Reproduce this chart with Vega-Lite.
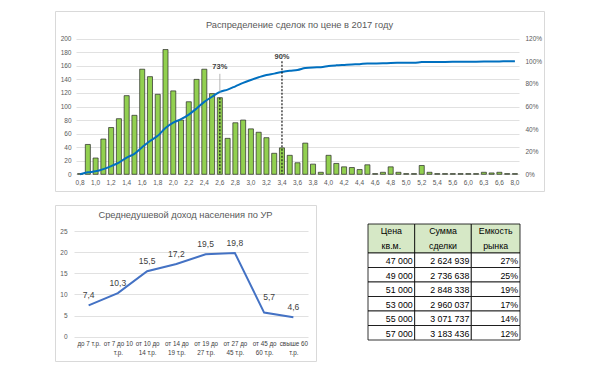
{
  "$schema": "https://vega.github.io/schema/vega-lite/v6.json",
  "background": "white",
  "padding": {"left": 54, "top": 10, "right": 5, "bottom": 5},
  "bounds": "flush",
  "spacing": 14,
  "config": {
    "font": "Liberation Sans",
    "view": {"stroke": "#D9D9D9", "strokeWidth": 1},
    "axis": {"labelColor": "#595959", "labelFont": "Liberation Sans", "gridColor": "#D9D9D9", "gridWidth": 0.8, "domain": false, "ticks": false, "tickSize": 0, "labelFontSize": 7, "labelOverlap": false},
    "title": {"font": "Liberation Sans", "color": "#595959", "fontWeight": "normal"}
  },
  "datasets": {
    "dist": [
      {"p": "0,8", "n": 1, "cum": 0.0004},
      {"p": "0,9", "n": 44, "cum": 0.0172},
      {"p": "1,0", "n": 24, "cum": 0.0263},
      {"p": "1,1", "n": 52, "cum": 0.0461},
      {"p": "1,2", "n": 69, "cum": 0.0725},
      {"p": "1,3", "n": 82, "cum": 0.1037},
      {"p": "1,4", "n": 116, "cum": 0.1480},
      {"p": "1,5", "n": 87, "cum": 0.1812},
      {"p": "1,6", "n": 155, "cum": 0.2403},
      {"p": "1,7", "n": 144, "cum": 0.2952},
      {"p": "1,8", "n": 118, "cum": 0.3402},
      {"p": "1,9", "n": 184, "cum": 0.4104},
      {"p": "2,0", "n": 123, "cum": 0.4573},
      {"p": "2,1", "n": 80, "cum": 0.4878},
      {"p": "2,2", "n": 107, "cum": 0.5286},
      {"p": "2,3", "n": 140, "cum": 0.5820},
      {"p": "2,4", "n": 155, "cum": 0.6411},
      {"p": "2,5", "n": 119, "cum": 0.6865},
      {"p": "2,6", "n": 113, "cum": 0.7296},
      {"p": "2,7", "n": 53, "cum": 0.7498},
      {"p": "2,8", "n": 76, "cum": 0.7788},
      {"p": "2,9", "n": 80, "cum": 0.8093},
      {"p": "3,0", "n": 67, "cum": 0.8349},
      {"p": "3,1", "n": 62, "cum": 0.8585},
      {"p": "3,2", "n": 54, "cum": 0.8791},
      {"p": "3,3", "n": 31, "cum": 0.8909},
      {"p": "3,4", "n": 39, "cum": 0.9058},
      {"p": "3,5", "n": 28, "cum": 0.9165},
      {"p": "3,6", "n": 17, "cum": 0.9230},
      {"p": "3,7", "n": 46, "cum": 0.9405},
      {"p": "3,8", "n": 15, "cum": 0.9462},
      {"p": "3,9", "n": 3, "cum": 0.9474},
      {"p": "4,0", "n": 28, "cum": 0.9580},
      {"p": "4,1", "n": 16, "cum": 0.9641},
      {"p": "4,2", "n": 11, "cum": 0.9683},
      {"p": "4,3", "n": 10, "cum": 0.9722},
      {"p": "4,4", "n": 7, "cum": 0.9748},
      {"p": "4,5", "n": 14, "cum": 0.9802},
      {"p": "4,6", "n": 1, "cum": 0.9806},
      {"p": "4,7", "n": 3, "cum": 0.9817},
      {"p": "4,8", "n": 11, "cum": 0.9859},
      {"p": "4,9", "n": 3, "cum": 0.9870},
      {"p": "5,0", "n": 1, "cum": 0.9874},
      {"p": "5,1", "n": 1, "cum": 0.9878},
      {"p": "5,2", "n": 13, "cum": 0.9928},
      {"p": "5,3", "n": 3, "cum": 0.9939},
      {"p": "5,4", "n": 1, "cum": 0.9943},
      {"p": "5,5", "n": 1, "cum": 0.9947},
      {"p": "5,6", "n": 1, "cum": 0.9950},
      {"p": "5,8", "n": 1, "cum": 0.9954},
      {"p": "6,0", "n": 1, "cum": 0.9958},
      {"p": "6,2", "n": 1, "cum": 0.9962},
      {"p": "6,3", "n": 3, "cum": 0.9973},
      {"p": "6,5", "n": 2, "cum": 0.9981},
      {"p": "6,6", "n": 3, "cum": 0.9992},
      {"p": "7,0", "n": 1, "cum": 0.9996},
      {"p": "8,0", "n": 1, "cum": 1.0}
    ],
    "ann": [
      {"p": "2,6", "share": 0.73, "lab": "73%"},
      {"p": "3,4", "share": 0.90, "lab": "90%"}
    ],
    "income": [
      {"cat": "до 7 т.р.", "v": 7.4, "lbl": "7,4"},
      {"cat": "от 7  до 10|т.р.", "v": 10.3, "lbl": "10,3"},
      {"cat": "от 10 до|14 т.р.", "v": 15.5, "lbl": "15,5"},
      {"cat": "от 14 до|19 т.р.", "v": 17.2, "lbl": "17,2"},
      {"cat": "от 19 до|27 т.р.", "v": 19.5, "lbl": "19,5"},
      {"cat": "от 27 до|45 т.р.", "v": 19.8, "lbl": "19,8"},
      {"cat": "от 45 до|60 т.р.", "v": 5.7, "lbl": "5,7"},
      {"cat": "свыше 60|т.р.", "v": 4.6, "lbl": "4,6"}
    ],
    "table": [
      {"kind": "h", "c0": 0, "c1": 1, "r0": 0, "r1": 2, "xm": 0.5, "ym": 1, "t": "Цена\nкв.м."},
      {"kind": "h", "c0": 1, "c1": 2, "r0": 0, "r1": 2, "xm": 1.5, "ym": 1, "t": "Сумма\nсделки"},
      {"kind": "h", "c0": 2, "c1": 3, "r0": 0, "r1": 2, "xm": 2.5, "ym": 1, "t": "Емкость\nрынка"},
      {"kind": "b", "c0": 0, "c1": 1, "r0": 2, "r1": 3, "t": "47 000"},
      {"kind": "b", "c0": 1, "c1": 2, "r0": 2, "r1": 3, "t": "2 624 939"},
      {"kind": "b", "c0": 2, "c1": 3, "r0": 2, "r1": 3, "t": "27%"},
      {"kind": "b", "c0": 0, "c1": 1, "r0": 3, "r1": 4, "t": "49 000"},
      {"kind": "b", "c0": 1, "c1": 2, "r0": 3, "r1": 4, "t": "2 736 638"},
      {"kind": "b", "c0": 2, "c1": 3, "r0": 3, "r1": 4, "t": "25%"},
      {"kind": "b", "c0": 0, "c1": 1, "r0": 4, "r1": 5, "t": "51 000"},
      {"kind": "b", "c0": 1, "c1": 2, "r0": 4, "r1": 5, "t": "2 848 338"},
      {"kind": "b", "c0": 2, "c1": 3, "r0": 4, "r1": 5, "t": "19%"},
      {"kind": "b", "c0": 0, "c1": 1, "r0": 5, "r1": 6, "t": "53 000"},
      {"kind": "b", "c0": 1, "c1": 2, "r0": 5, "r1": 6, "t": "2 960 037"},
      {"kind": "b", "c0": 2, "c1": 3, "r0": 5, "r1": 6, "t": "17%"},
      {"kind": "b", "c0": 0, "c1": 1, "r0": 6, "r1": 7, "t": "55 000"},
      {"kind": "b", "c0": 1, "c1": 2, "r0": 6, "r1": 7, "t": "3 071 737"},
      {"kind": "b", "c0": 2, "c1": 3, "r0": 6, "r1": 7, "t": "14%"},
      {"kind": "b", "c0": 0, "c1": 1, "r0": 7, "r1": 8, "t": "57 000"},
      {"kind": "b", "c0": 1, "c1": 2, "r0": 7, "r1": 8, "t": "3 183 436"},
      {"kind": "b", "c0": 2, "c1": 3, "r0": 7, "r1": 8, "t": "12%"}
    ]
  },
  "vconcat": [
    {
      "width": 489,
      "height": 180,
      "data": {"name": "dist"},
      "title": {"text": "Распределение сделок по цене в 2017 году", "fontSize": 9.3, "baseline": "top", "offset": -19.5, "anchor": "middle", "frame": "group"},
      "encoding": {
        "x": {
          "field": "p", "type": "ordinal", "sort": "ascending",
          "scale": {"range": [21, 464], "paddingInner": 0.35, "paddingOuter": 0.2},
          "axis": {
            "values": ["0,8","1,0","1,2","1,4","1,6","1,8","2,0","2,2","2,4","2,6","2,8","3,0","3,2","3,4","3,6","3,8","4,0","4,2","4,4","4,6","4,8","5,0","5,2","5,4","5,6","6,0","6,3","6,6","8,0"],
            "labelAngle": 0, "offset": -16.7, "labelPadding": 5, "labelFontSize": 6.5, "labelOverlap": false, "grid": false, "title": null
          }
        }
      },
      "layer": [
        {
          "layer": [
            {
              "mark": {"type": "bar", "fill": "#92D050", "stroke": "#262626", "strokeWidth": 0.7},
              "encoding": {
                "y": {"field": "n", "type": "quantitative",
                      "scale": {"domain": [0, 200], "range": [163.3, 27.7], "nice": false},
                      "axis": {"values": [0,20,40,60,80,100,120,140,160,180,200], "tickCount": 11, "offset": -21, "labelPadding": 5, "labelFontSize": 6.5, "labelOverlap": false, "labelFlush": false, "grid": true, "title": null}}
              }
            },
            {
              "transform": [{"filter": "datum.p == '2,6'"}],
              "mark": {"type": "rule", "stroke": "#1a1a1a", "strokeDash": [2, 1.5], "strokeWidth": 1.2},
              "encoding": {"y": {"field": "n", "type": "quantitative"}, "y2": {"datum": 0}}
            }
          ]
        },
        {
          "layer": [
            {
              "mark": {"type": "line", "color": "#0070C0", "strokeWidth": 2, "interpolate": "monotone"},
              "encoding": {
                "y": {"field": "cum", "type": "quantitative",
                      "scale": {"domain": [0, 1.2], "range": [163.3, 27.7], "nice": false},
                      "axis": {"orient": "right", "format": ".0%", "values": [0,0.2,0.4,0.6,0.8,1,1.2], "tickCount": 7, "offset": -25, "labelPadding": 6, "labelFontSize": 6.5, "labelOverlap": false, "labelFlush": false, "grid": false, "title": null}}
              }
            },
            {
              "data": {"name": "ann"},
              "transform": [{"filter": "datum.p == '2,6'"}],
              "mark": {"type": "rule", "stroke": "#A6A6A6", "strokeWidth": 0.8, "y2Offset": -18},
              "encoding": {"y": {"field": "share", "type": "quantitative"}, "y2": {"field": "share"}}
            },
            {
              "data": {"name": "ann"},
              "transform": [{"filter": "datum.p == '3,4'"}],
              "mark": {"type": "rule", "stroke": "#1a1a1a", "strokeDash": [2, 1.5], "strokeWidth": 1.2},
              "encoding": {"y": {"datum": 1}, "y2": {"datum": 0}}
            },
            {
              "data": {"name": "ann"},
              "transform": [{"filter": "datum.p == '2,6'"}],
              "mark": {"type": "text", "dy": -25, "fontSize": 7.5, "fontWeight": "bold", "fill": "#404040"},
              "encoding": {"y": {"field": "share", "type": "quantitative"}, "text": {"field": "lab"}}
            },
            {
              "data": {"name": "ann"},
              "transform": [{"filter": "datum.p == '3,4'"}],
              "mark": {"type": "text", "dy": -16, "fontSize": 7.5, "fontWeight": "bold", "fill": "#404040"},
              "encoding": {"y": {"field": "share", "type": "quantitative"}, "text": {"field": "lab"}}
            }
          ]
        }
      ],
      "resolve": {"scale": {"y": "independent"}}
    },
    {
      "hconcat": [
        {
          "width": 261,
          "height": 156,
          "data": {"name": "income"},
          "title": {"text": "Среднедушевой доход населения по УР", "fontSize": 9.3, "baseline": "top", "offset": -15, "anchor": "middle", "frame": "group"},
          "encoding": {
            "x": {"field": "cat", "type": "ordinal", "sort": null,
                  "scale": {"range": [19, 253]},
                  "axis": {"labelExpr": "split(datum.label, '|')", "labelAngle": 0, "offset": -24.3, "labelPadding": 4, "labelFontSize": 6.3, "labelLineHeight": 9, "labelColor": "#404040", "labelOverlap": false, "title": null}},
            "y": {"field": "v", "type": "quantitative",
                  "scale": {"domain": [0, 25], "range": [131.7, 26], "nice": false},
                  "axis": {"values": [0,5,10,15,20,25], "offset": -19, "labelPadding": 7, "labelFontSize": 6.5, "grid": true, "title": null}}
          },
          "layer": [
            {"mark": {"type": "line", "color": "#4472C4", "strokeWidth": 2}},
            {
              "transform": [{"filter": "datum.lbl != '5,7'"}],
              "mark": {"type": "text", "dy": -10, "fontSize": 8.5, "fill": "#404040"},
              "encoding": {"text": {"field": "lbl"}}
            },
            {
              "transform": [{"filter": "datum.lbl == '5,7'"}],
              "mark": {"type": "text", "dy": -16, "dx": 5, "fontSize": 8.5, "fill": "#404040"},
              "encoding": {"text": {"field": "lbl"}}
            }
          ]
        },
        {
          "width": 152,
          "height": 156,
          "view": {"stroke": null},
          "data": {"name": "table"},
          "layer": [
            {
              "mark": {"type": "rect", "stroke": "#000000", "strokeWidth": 0.8},
              "encoding": {
                "x": {"field": "c0", "type": "quantitative", "scale": {"domain": [0, 1, 2, 3], "range": [0, 46.7, 103.3, 152], "nice": false, "zero": false}, "axis": null},
                "x2": {"field": "c1"},
                "y": {"field": "r0", "type": "quantitative", "scale": {"domain": [0, 8], "range": [19, 135], "nice": false, "zero": false}, "axis": null},
                "y2": {"field": "r1"},
                "fill": {"field": "kind", "type": "nominal", "scale": {"domain": ["h", "b"], "range": ["#D6E8C6", "#FFFFFF"]}, "legend": null}
              }
            },
            {
              "transform": [{"filter": "datum.kind == 'b'"}],
              "mark": {"type": "text", "align": "right", "baseline": "alphabetic", "dx": -2, "dy": -3.5, "fontSize": 8.8, "fill": "#000000"},
              "encoding": {
                "x": {"field": "c1", "type": "quantitative"},
                "y": {"field": "r1", "type": "quantitative"},
                "text": {"field": "t"}
              }
            },
            {
              "transform": [{"filter": "datum.kind == 'h'"}],
              "mark": {"type": "text", "align": "center", "baseline": "middle", "lineBreak": "\n", "lineHeight": 15, "dy": -7.5, "fontSize": 8.8, "fill": "#000000"},
              "encoding": {
                "x": {"field": "xm", "type": "quantitative"},
                "y": {"field": "ym", "type": "quantitative"},
                "text": {"field": "t"}
              }
            }
          ]
        }
      ],
      "spacing": 52,
      "bounds": "flush"
    }
  ]
}
